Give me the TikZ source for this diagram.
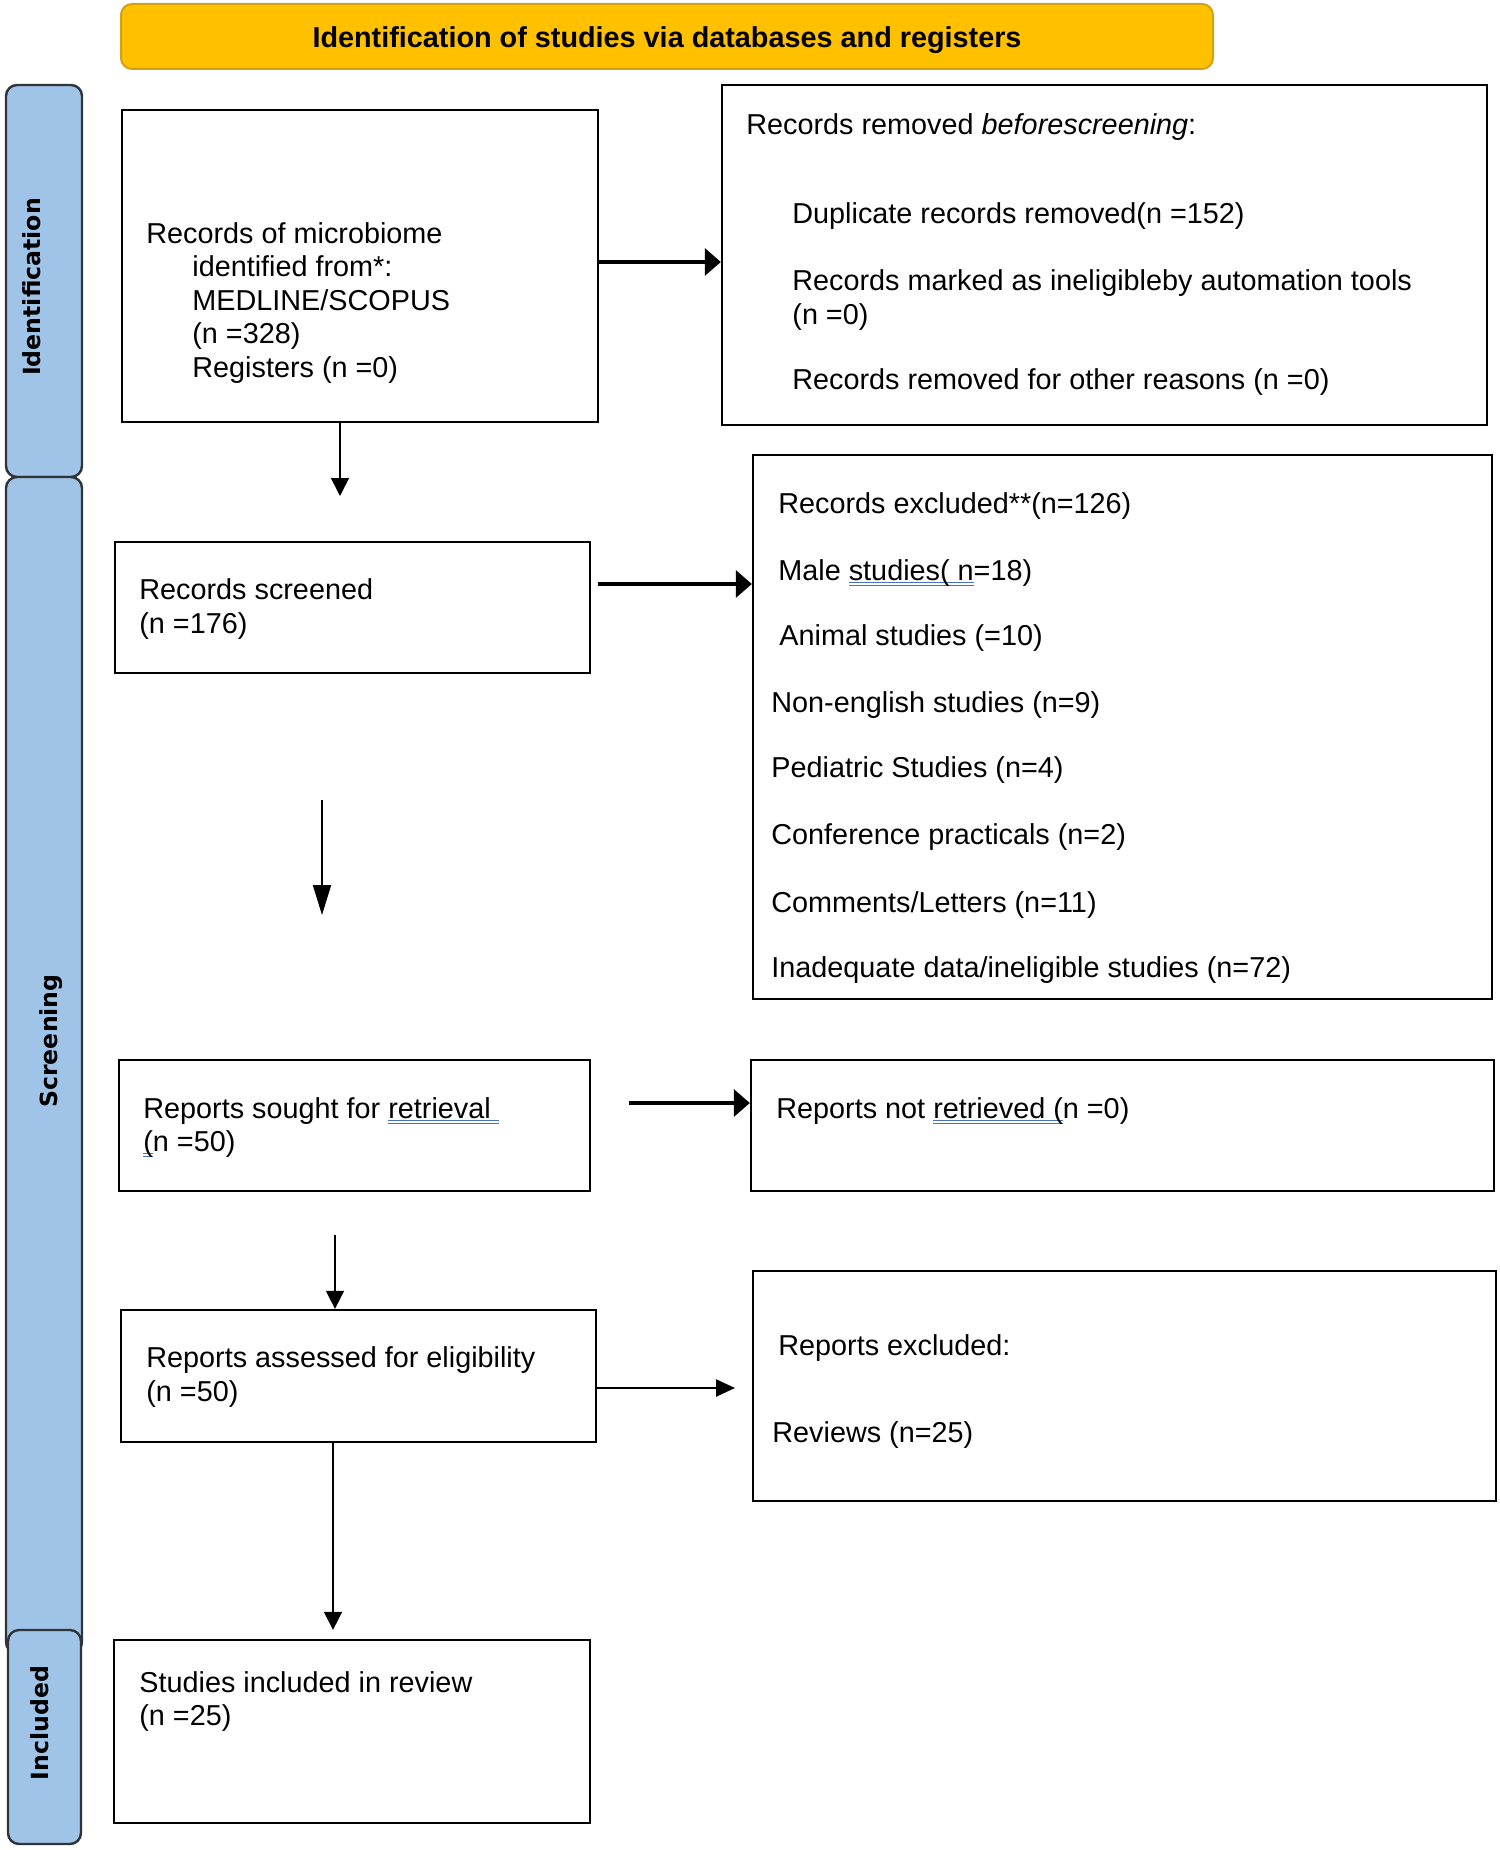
\documentclass[tikz,border=0pt]{standalone}
\usepackage{fontspec}
\setmainfont{Liberation Sans}
\newfontfamily\sidefont{DejaVu Sans}
\usetikzlibrary{arrows.meta,fit,calc}
\definecolor{bannerfill}{HTML}{FFC000}
\definecolor{bannerdraw}{HTML}{D4A017}
\definecolor{barfill}{HTML}{9FC4E8}
\definecolor{bardraw}{HTML}{303438}
\definecolor{spellblue}{HTML}{4472C4}
\newsavebox\spellbox
\newcommand\spellul[1]{\sbox\spellbox{#1}\leavevmode\rlap{\color{spellblue}\raisebox{-1.6pt}{\rule{\wd\spellbox}{0.55pt}}}\rlap{\color{spellblue}\raisebox{-3pt}{\rule{\wd\spellbox}{0.55pt}}}\usebox\spellbox}
\tikzset{
  box/.style={draw=black, line width=1.15pt, inner sep=0pt, fill=white},
  banner/.style={draw=bannerdraw, fill=bannerfill, line width=1pt, rounded corners=5.5pt, inner sep=0pt},
  bannertext/.style={inner sep=0pt, font=\fontsize{14.4}{17}\selectfont\bfseries},
  sidebar/.style={draw=bardraw, fill=barfill, line width=1.2pt, rounded corners=5.5pt, inner sep=0pt},
  sidetext/.style={rotate=90, inner sep=0pt, font=\sidefont\fontsize{11.8}{14}\selectfont\bfseries},
  txt/.style={anchor=base west, inner sep=0pt, font=\fontsize{14.4}{17}\selectfont},
  thickarrow/.style={draw=black, line width=1.6pt, -{Triangle[length=8pt,width=13.5pt]}},
  midarrow/.style={draw=black, line width=1.2pt, -{Triangle[length=9.5pt,width=8.5pt]}},
  thinarrow/.style={draw=black, line width=0.8pt, -{Triangle[length=9pt,width=9pt]}},
  longtip/.style={draw=black, line width=1pt, -{Triangle[length=15pt,width=9pt]}},
}
\begin{document}
\begin{tikzpicture}[x=0.5pt,y=-0.5pt]
\useasboundingbox[fill=white] (0,0) rectangle (1499,1850);

% banner
\node[banner, fit={(121,4)(1213,69)}] (title) {};
\node[bannertext, yshift=-2pt] (titletext) at (title.center) {Identification of studies via databases and registers};

% side bars
\node[sidebar, fit={(6,85)(82,477)}] (barid) {};
\node[sidebar, fit={(6,477)(82,1653)}] (barsc) {};
\node[sidebar, fit={(8,1630)(81,1844)}] (barin) {};
\node[sidetext] (lblid) at (32,287) {Identification};
\node[sidetext] (lblsc) at (51,1041) {Screening};
\node[sidetext] (lblin) at (40,1723) {Included};

% boxes
\node[box, fit={(122,110)(598,422)}] (b1) {};
\node[box, fit={(722,85)(1487,425)}] (b2) {};
\node[box, fit={(115,542)(590,673)}] (b3) {};
\node[box, fit={(753,455)(1492,999)}] (b4) {};
\node[box, fit={(119,1060)(590,1191)}] (b5) {};
\node[box, fit={(751,1060)(1494,1191)}] (b6) {};
\node[box, fit={(121,1310)(596,1442)}] (b7) {};
\node[box, fit={(753,1271)(1496,1501)}] (b8) {};
\node[box, fit={(114,1640)(590,1823)}] (b9) {};

% texts box 1
\node[txt] (t1a) at (146,244) {Records of microbiome};
\node[txt] (t1b) at (192,277) {identified from*:};
\node[txt] (t1c) at (192,311) {MEDLINE/SCOPUS};
\node[txt] (t1d) at (192,344) {(n =328)};
\node[txt] (t1e) at (192,378) {Registers (n =0)};
% texts box 2
\node[txt] (t2a) at (746,135) {Records removed \textit{beforescreening}:};
\node[txt] (t2b) at (792,224) {Duplicate records removed(n =152)};
\node[txt] (t2c) at (792,291) {Records marked as ineligibleby automation tools};
\node[txt] (t2d) at (792,325) {(n =0)};
\node[txt] (t2e) at (792,390) {Records removed for other reasons (n =0)};
% texts box 3
\node[txt] (t3a) at (139,599) {Records screened};
\node[txt] (t3b) at (139,633) {(n =176)};
% texts box 4
\node[txt] (t4a) at (778,513) {Records excluded**(n=126)};
\node[txt] (t4b) at (778,580) {Male \spellul{studies( n}=18)};
\node[txt] (t4c) at (779,645) {Animal studies (=10)};
\node[txt] (t4d) at (771,712) {Non-english studies (n=9)};
\node[txt] (t4e) at (771,777) {Pediatric Studies (n=4)};
\node[txt] (t4f) at (771,844) {Conference practicals (n=2)};
\node[txt] (t4g) at (771,912) {Comments/Letters (n=11)};
\node[txt] (t4h) at (771,977) {Inadequate data/ineligible studies (n=72)};
% texts box 5
\node[txt] (t5a) at (143,1118) {Reports sought for \spellul{retrieval\ }};
\node[txt] (t5b) at (143,1151) {\spellul{(}n =50)};
% texts box 6
\node[txt] (t6a) at (776,1118) {Reports not \spellul{retrieved (}n =0)};
% texts box 7
\node[txt] (t7a) at (146,1367) {Reports assessed for eligibility};
\node[txt] (t7b) at (146,1401) {(n =50)};
% texts box 8
\node[txt] (t8a) at (778,1355) {Reports excluded:};
\node[txt] (t8b) at (772,1442) {Reviews (n=25)};
% texts box 9
\node[txt] (t9a) at (139,1692) {Studies included in review};
\node[txt] (t9b) at (139,1725) {(n =25)};

% connector coordinates
\coordinate (a1y) at (0,262);
\coordinate (a2e) at (340,496);
\coordinate (a3s) at (598,584);
\coordinate (a4s) at (322,800);
\coordinate (a4e) at (322,915);
\coordinate (a5s) at (629,1103);
\coordinate (a6s) at (335,1235);
\coordinate (a7e) at (735,1388);
\coordinate (a8x) at (333,0);

% connectors
\draw[thickarrow] (b1.east |- a1y) -- (b2.west |- a1y);
\draw[thinarrow] (b1.south -| a2e) -- (a2e);
\draw[thickarrow] (a3s) -- (b4.west |- a3s);
\draw[longtip] (a4s) -- (a4e);
\draw[thickarrow] (a5s) -- (b6.west |- a5s);
\draw[thinarrow] (a6s) -- (b7.north -| a6s);
\draw[midarrow] (b7.east |- a7e) -- (a7e);
\draw[thinarrow, shorten >=4.5pt] (b7.south -| a8x) -- (b9.north -| a8x);
\end{tikzpicture}
\end{document}
